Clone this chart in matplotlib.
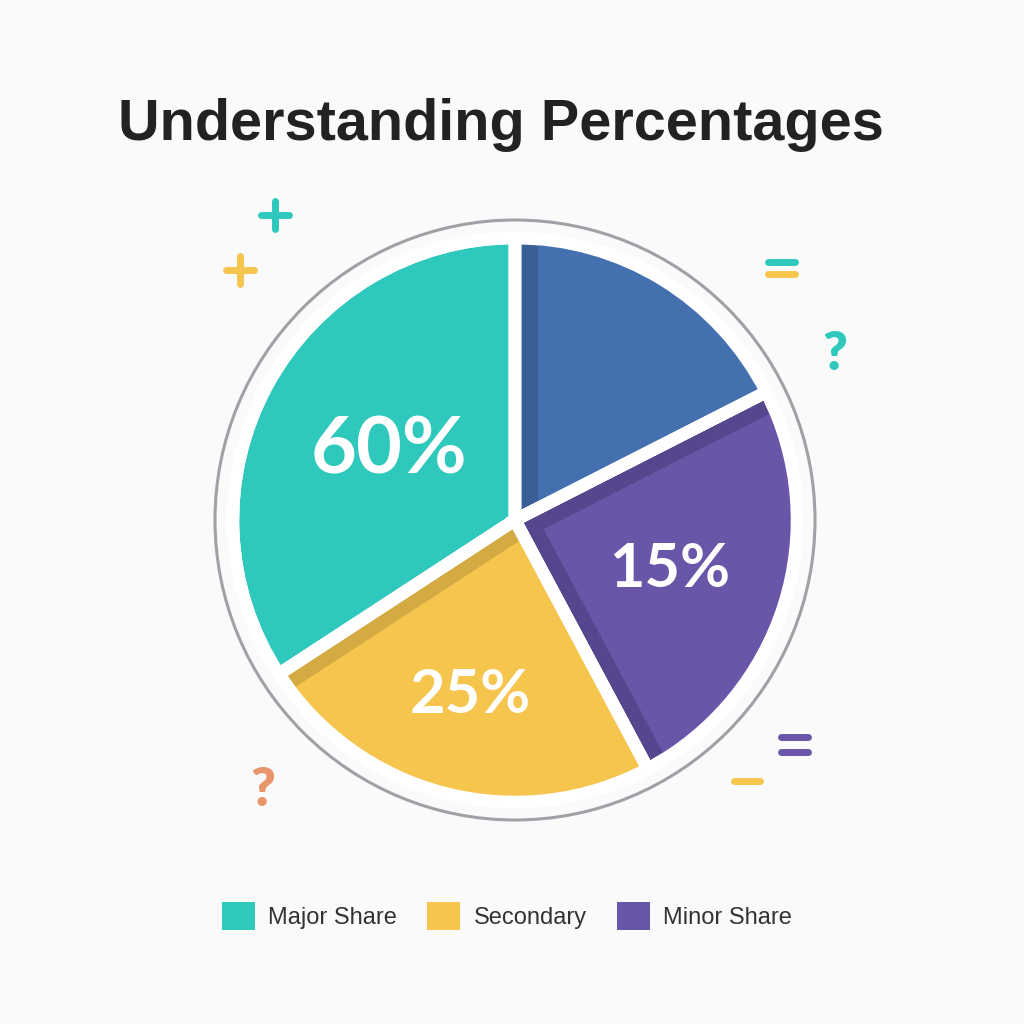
# Pie chart "Understanding Percentages"

import matplotlib.pyplot as plt
from matplotlib.patches import Wedge, Circle, Patch
import numpy as np

# slice sizes as they are drawn in the picture (share of the full circle)
slice_sizes = [34.2, 23.6, 24.7, 17.5]
pct_labels = ['60%', '25%', '15%', '']
slice_colors = ['#2ec8bd', '#f6c54e', '#6a56a8', '#4470b0']
shade_colors = ['#2ec8bd', '#d4aa42', '#56468e', '#3a5f98']

legend_names = ['Major Share', 'Secondary', 'Minor Share']
legend_colors = ['#2ec8bd', '#f6c54e', '#6a56a8']

bg = '#fafafa'
W = 1024

fig = plt.figure(figsize=(10.24, 10.24), dpi=100, facecolor=bg)
ax = fig.add_axes([0, 0, 1, 1])
ax.set_facecolor(bg)

cx, cy = 515, W - 520
R = 282

wedges, _ = ax.pie(slice_sizes, colors=shade_colors, startangle=90, counterclock=True,
                   radius=R, center=(cx, cy),
                   wedgeprops=dict(edgecolor='white', linewidth=9))

# lighter face shifted inside each slice leaves a darker band along the edges
shifts = [None, ('end', 20), ('mid', 30), ('start', 26)]
for w, col, sh in zip(wedges, slice_colors, shifts):
    if sh is None:
        continue
    how, d = sh
    if how == 'start':
        a = w.theta1
    elif how == 'end':
        a = w.theta2
    else:
        a = (w.theta1 + w.theta2) / 2
    dx = d * np.cos(np.radians(a))
    dy = d * np.sin(np.radians(a))
    light = Wedge((cx + dx, cy + dy), R, w.theta1, w.theta2, facecolor=col, linewidth=0)
    light.set_clip_path(w)
    ax.add_patch(light)

for w in wedges:
    ax.add_patch(Wedge((cx, cy), R, w.theta1, w.theta2, facecolor='none',
                       edgecolor='white', linewidth=9))

# percentage labels
label_dist = [0.51, 0.64, 0.575, 0.5]
label_size = [57, 44, 44, 44]
for w, txt, rd, fs in zip(wedges, pct_labels, label_dist, label_size):
    if not txt:
        continue
    a = np.radians((w.theta1 + w.theta2) / 2)
    ax.text(cx + rd * R * np.cos(a), cy + rd * R * np.sin(a), txt, color='white',
            fontsize=fs, fontweight='bold', family='Lato', ha='center', va='center')

ax.add_patch(Circle((cx, cy), 300, fill=False, edgecolor='#9ea2a6', linewidth=2.2))

# little math symbols around the pie
def bar(x0, x1, y, color):
    ax.plot([x0, x1], [W - y, W - y], color=color, lw=5, solid_capstyle='round')

def plus(x, y, color):
    bar(x - 14, x + 14, y, color)
    ax.plot([x, x], [W - y - 14, W - y + 14], color=color, lw=5, solid_capstyle='round')

plus(275, 215, '#2ec8bd')
plus(240, 270, '#f6c54e')
bar(768, 795, 262, '#2ec8bd')
bar(768, 795, 274, '#f6c54e')
bar(781, 808, 737, '#6a56a8')
bar(781, 808, 752, '#6a56a8')
bar(734, 760, 781, '#f6c54e')
ax.text(835, W - 355, '?', color='#2ec8bd', fontsize=38, fontweight='heavy',
        family='Lato', ha='center', va='center')
ax.text(263, W - 790, '?', color='#e8956b', fontsize=38, fontweight='heavy',
        family='Lato', ha='center', va='center')

fig.text(501 / W, 1 - 125 / W, 'Understanding Percentages', fontsize=41.5, fontweight='bold',
         family='Liberation Sans', color='#222222', ha='center', va='center')

handles = [Patch(facecolor=c, edgecolor='none') for c in legend_colors]
ax.legend(handles, legend_names, loc='center', bbox_to_anchor=(507 / W, 1 - 916 / W),
          ncol=3, frameon=False, handlelength=1.4, handleheight=1.4,
          handletextpad=0.55, columnspacing=1.3, labelcolor='#333333',
          prop=dict(family='Liberation Sans', size=17))

ax.set_xlim(0, W)
ax.set_ylim(0, W)
ax.set_aspect('equal')
ax.axis('off')

fig.savefig('out.png', dpi=100, facecolor=bg)
